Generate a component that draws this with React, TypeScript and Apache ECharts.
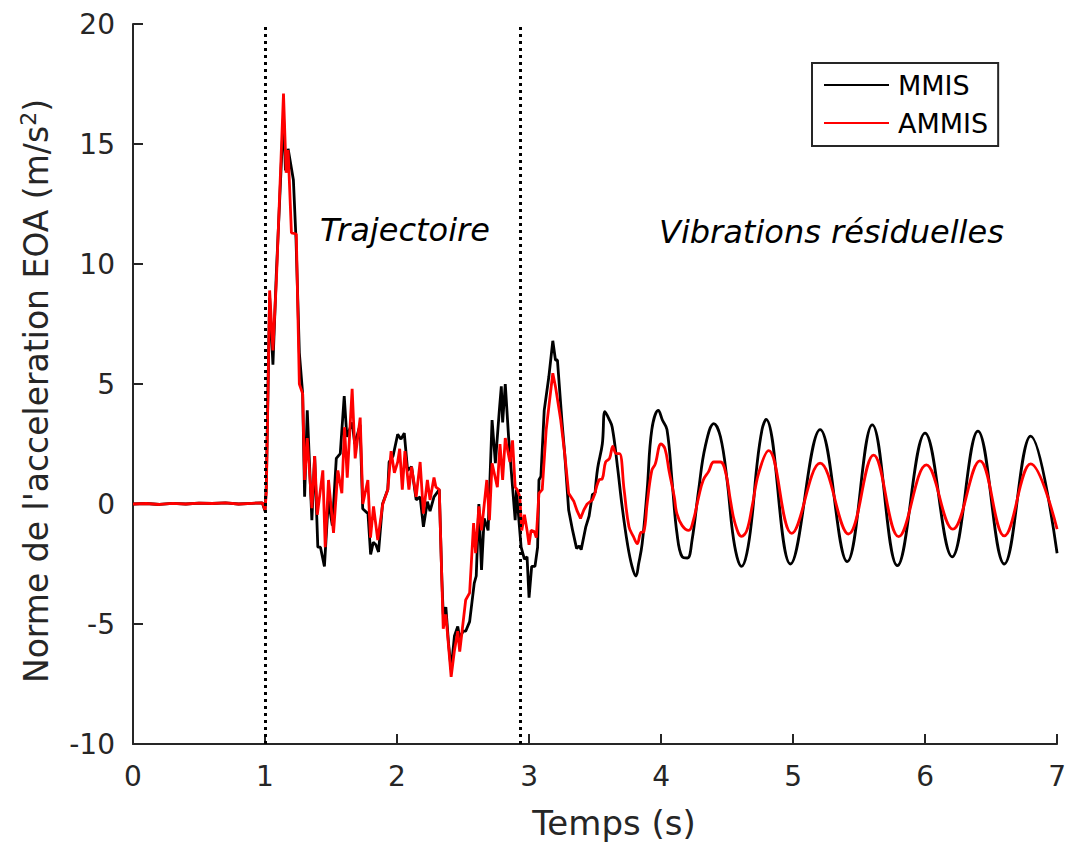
import React, { useEffect, useRef } from "react";
import * as echarts from "echarts";

// ---- Data (time in s, acceleration norm in m/s^2) ----
const xTicks = [0, 1, 2, 3, 4, 5, 6, 7];
const yTicks = [-10, -5, 0, 5, 10, 15, 20];
const phaseBounds = [1.0, 2.93];
const phaseLabels = ["Trajectoire", "Vibrations résiduelles"];
const seriesNames = ["MMIS", "AMMIS"];

// MMIS — trajectory / transient part (straight segments)
const mmisTransient: [number, number][] = [
  [0, 0.0], [0.1, 0.02], [0.2, -0.02], [0.3, 0.03], [0.4, 0.0], [0.5, 0.04], [0.6, 0.02],
  [0.7, 0.05], [0.8, 0.0], [0.9, 0.03], [0.98, 0.05], [1.0, -0.3], [1.01, 0.8],
  [1.035, 8.6], [1.06, 5.8], [1.085, 9.5], [1.14, 16.2], [1.155, 13.9], [1.175, 14.8],
  [1.215, 13.5], [1.235, 11.0], [1.26, 6.3], [1.285, 4.6], [1.3, 0.3], [1.32, 3.9],
  [1.355, -0.67], [1.376, 2.0], [1.4, -1.8], [1.42, -1.8], [1.45, -2.6], [1.48, 0.17],
  [1.51, -0.9], [1.54, 1.9], [1.57, 2.1], [1.6, 4.5], [1.62, 2.8], [1.66, 3.4], [1.68, 2.5],
  [1.72, 3.3], [1.74, -0.2], [1.78, -0.4], [1.8, -2.1], [1.82, -1.6], [1.84, -1.7],
  [1.86, -2.0], [1.89, 0.0], [1.93, 0.6], [1.94, 1.75], [1.97, 2.0], [2.005, 2.9],
  [2.03, 2.7], [2.055, 2.95], [2.08, 1.4], [2.11, 1.55], [2.145, 0.17], [2.175, 0.3],
  [2.2, -0.95], [2.23, 0.1], [2.25, -0.3], [2.28, 0.3], [2.32, 0.6], [2.34, -3.2],
  [2.35, -4.6], [2.37, -4.3], [2.39, -5.8], [2.41, -6.9], [2.435, -5.5], [2.46, -5.1],
  [2.475, -5.6], [2.5, -5.3], [2.52, -5.3], [2.55, -4.9], [2.585, -3.3], [2.6, -3.0],
  [2.62, 0.0], [2.64, -2.75], [2.66, -0.6], [2.69, -1.1], [2.72, 3.5], [2.745, 1.7],
  [2.775, 3.9], [2.79, 4.9], [2.8, 3.4], [2.82, 5.0], [2.845, 2.8], [2.86, 1.75],
  [2.895, -0.67], [2.905, 0.6], [2.925, -0.8], [2.94, -1.8], [2.965, -2.3], [2.985, -2.2],
  [3.0, -3.9], [3.02, -2.6], [3.045, -2.6], [3.065, -1.8], [3.075, 1.0], [3.09, 1.15],
  [3.115, 3.9], [3.15, 5.3], [3.18, 6.8], [3.2, 6.0], [3.215, 6.0], [3.25, 3.4],
  [3.27, 2.1], [3.3, -0.25], [3.33, -1.1], [3.36, -1.85], [3.38, -1.75], [3.395, -1.9],
  [3.43, -0.95], [3.455, -0.5], [3.48, 0.4], [3.5, 0.45],
];
// MMIS — residual vibrations (smoothed)
const mmisVibration: [number, number][] = [
  [3.5, 0.45], [3.52, 1.5], [3.555, 2.5], [3.575, 3.85], [3.605, 3.55], [3.63, 3.2],
  [3.67, 1.55], [3.705, -0.1], [3.745, -1.65], [3.78, -2.6], [3.81, -3.0], [3.83, -2.5],
  [3.857, -1.65], [3.895, 0.6], [3.93, 3.1], [3.98, 3.9], [4.01, 3.5], [4.045, 3.1],
  [4.085, 0.85], [4.12, -1.2], [4.16, -2.2], [4.2, -2.25], [4.235, -1.5], [4.285, 0.6],
  [4.335, 2.4], [4.4, 3.35], [4.45, 2.8], [4.5, 1.0], [4.54, -1.1], [4.575, -2.2],
  [4.61, -2.6], [4.65, -2.05], [4.69, -0.5], [4.725, 1.55], [4.765, 3.1], [4.795, 3.53],
  [4.98, -2.5], [5.205, 3.1], [5.41, -2.4], [5.6, 3.3], [5.79, -2.57], [6.0, 2.95],
  [6.205, -2.2], [6.4, 3.04], [6.6, -2.5], [6.8, 2.83], [7.0, -2.05],
];

// AMMIS — trajectory / transient part
const ammisTransient: [number, number][] = [
  [0, 0.0], [0.1, 0.02], [0.2, -0.02], [0.3, 0.03], [0.4, 0.0], [0.5, 0.04], [0.6, 0.02],
  [0.7, 0.05], [0.8, 0.0], [0.9, 0.03], [0.98, 0.05], [1.0, -0.25], [1.01, 0.5],
  [1.035, 8.9], [1.06, 6.4], [1.086, 9.3], [1.14, 17.1], [1.16, 13.8], [1.175, 14.75],
  [1.2, 11.3], [1.237, 11.25], [1.26, 5.0], [1.285, 4.6], [1.3, 1.0], [1.32, 2.75],
  [1.355, -0.17], [1.376, 2.0], [1.396, -0.45], [1.438, 1.4], [1.456, -1.8], [1.481, 1.0],
  [1.519, -1.2], [1.552, 1.4], [1.582, 0.45], [1.602, 3.2], [1.623, 1.1], [1.66, 4.8],
  [1.683, 1.9], [1.721, 3.6], [1.741, 0.0], [1.779, 1.0], [1.799, -1.4], [1.822, -0.1],
  [1.854, -1.5], [1.892, 0.0], [1.93, 0.6], [1.955, 2.2], [1.98, 1.3], [2.005, 1.75],
  [2.02, 2.3], [2.04, 0.6], [2.06, 2.2], [2.09, 0.6], [2.11, 1.55], [2.145, 0.3],
  [2.175, 1.75], [2.2, -0.4], [2.23, 1.0], [2.25, 0.17], [2.28, 1.1], [2.295, 0.7],
  [2.32, 0.6], [2.35, -5.2], [2.37, -4.6], [2.41, -7.2], [2.435, -6.1], [2.46, -5.3],
  [2.475, -6.15], [2.52, -4.0], [2.55, -3.7], [2.58, -0.8], [2.595, -2.05], [2.62, -0.1],
  [2.64, -1.1], [2.68, 1.0], [2.7, -0.67], [2.72, 1.7], [2.76, 0.7], [2.78, 2.5],
  [2.8, 1.0], [2.82, 2.75], [2.855, 1.75], [2.875, 2.65], [2.895, 0.7], [2.91, 0.6],
  [2.93, 0.3], [2.945, -1.1], [2.965, -0.45], [2.985, -1.1], [3.0, -1.7], [3.015, -1.1],
  [3.04, -1.15], [3.055, -1.4], [3.075, 0.45], [3.1, 0.6], [3.13, 3.1], [3.15, 4.05],
  [3.18, 5.45], [3.2, 4.9], [3.24, 3.5], [3.27, 2.1], [3.3, 0.45], [3.34, 0.1],
  [3.365, -0.3], [3.39, -0.6], [3.415, -0.25], [3.44, 0.0], [3.48, 0.17], [3.5, 0.45],
];
// AMMIS — residual vibrations (smoothed)
const ammisVibration: [number, number][] = [
  [3.5, 0.45], [3.53, 1.0], [3.555, 1.05], [3.58, 1.75], [3.61, 1.9], [3.635, 2.4],
  [3.66, 2.1], [3.685, 2.1], [3.72, 0.6], [3.757, -0.95], [3.79, -1.35], [3.82, -1.65],
  [3.845, -1.2], [3.87, -1.15], [3.895, 0.03], [3.93, 1.4], [3.955, 1.65], [4.0, 2.5],
  [4.03, 2.3], [4.06, 1.4], [4.1, 0.3], [4.12, -0.4], [4.16, -0.9], [4.21, -1.1],
  [4.245, -0.67], [4.285, 0.3], [4.32, 1.0], [4.36, 1.35], [4.4, 1.75], [4.45, 1.75],
  [4.49, 1.3], [4.525, 0.17], [4.56, -0.8], [4.61, -1.35], [4.65, -1.1], [4.69, -0.1],
  [4.74, 1.3], [4.815, 2.22], [4.99, -1.22], [5.205, 1.7], [5.42, -1.25], [5.61, 2.04],
  [5.8, -1.36], [6.01, 1.63], [6.21, -1.05], [6.415, 1.8], [6.6, -1.33], [6.8, 1.67],
  [7.0, -1.05],
];

const FONT = "DejaVu Sans";
const AXIS = "#262626";

export default function App() {
  const ref = useRef<HTMLDivElement>(null);
  useEffect(() => {
    if (!ref.current) return;
    const chart = echarts.init(ref.current, null, { renderer: "svg" });
    const lineBase = { type: "line", symbol: "none", showSymbol: false, z: 2 } as any;
    chart.setOption({
      animation: false,
      backgroundColor: "#ffffff",
      textStyle: { fontFamily: FONT, color: AXIS },
      grid: { left: 133, right: 10, top: 24, bottom: 101, containLabel: false },
      legend: {
        data: seriesNames,
        icon: "rect",
        orient: "vertical",
        left: 812,
        top: 63,
        padding: [7, 10, 8, 12],
        itemWidth: 65,
        itemHeight: 2,
        itemGap: 8,
        borderColor: AXIS,
        borderWidth: 2,
        backgroundColor: "#fff",
        textStyle: { fontFamily: FONT, fontSize: 27, color: "#000", lineHeight: 30, padding: [0, 0, 0, 4] },
      },
      xAxis: {
        type: "value",
        min: xTicks[0],
        max: xTicks[xTicks.length - 1],
        interval: 1,
        name: "Temps (s)",
        nameLocation: "middle",
        nameGap: 62,
        nameTextStyle: { fontFamily: FONT, fontSize: 34, color: AXIS, padding: [0, 0, 0, 38] },
        axisLine: { onZero: false, lineStyle: { color: AXIS, width: 2 } },
        axisTick: { inside: true, length: 10, lineStyle: { color: AXIS, width: 2 } },
        axisLabel: { fontFamily: FONT, fontSize: 28, color: AXIS, margin: 18 },
        splitLine: { show: false },
      },
      yAxis: {
        type: "value",
        min: yTicks[0],
        max: yTicks[yTicks.length - 1],
        interval: 5,
        name: "Norme de l'acceleration EOA (m/s{sup|2})",
        nameLocation: "middle",
        nameGap: 78,
        nameTextStyle: {
          fontFamily: FONT,
          fontSize: 33,
          color: AXIS,
          padding: [0, 14, 0, 0],
          rich: {
            sup: { fontFamily: FONT, fontSize: 22, color: AXIS, padding: [0, 0, 16, 0] },
          },
        },
        axisLine: { show: true, onZero: false, lineStyle: { color: AXIS, width: 2 } },
        axisTick: { show: true, inside: true, length: 10, lineStyle: { color: AXIS, width: 2 } },
        axisLabel: { fontFamily: FONT, fontSize: 28, color: AXIS, margin: 18 },
        splitLine: { show: false },
      },
      graphic: [
        {
          type: "text",
          left: 320,
          top: 214,
          style: {
            text: phaseLabels[0],
            font: `italic 32px "${FONT}"`,
            fill: "#000",
          },
        },
        {
          type: "text",
          left: 659,
          top: 216,
          style: {
            text: phaseLabels[1],
            font: `italic 32px "${FONT}"`,
            fill: "#000",
          },
        },
      ],
      series: [
        {
          ...lineBase,
          name: seriesNames[0],
          data: mmisTransient,
          lineStyle: { color: "#000", width: 2.8 },
          itemStyle: { color: "#000" },
          markLine: {
            silent: true,
            symbol: "none",
            label: { show: false },
            lineStyle: { color: "#000", type: [3, 4], width: 3 },
            data: phaseBounds.map((b) => ({ xAxis: b })),
          },
        },
        {
          ...lineBase,
          name: seriesNames[0],
          data: mmisVibration,
          smooth: 0.4,
          lineStyle: { color: "#000", width: 2.8 },
          itemStyle: { color: "#000" },
        },
        {
          ...lineBase,
          name: seriesNames[1],
          data: ammisTransient,
          z: 3,
          lineStyle: { color: "#ff0000", width: 2.8 },
          itemStyle: { color: "#ff0000" },
        },
        {
          ...lineBase,
          name: seriesNames[1],
          data: ammisVibration,
          z: 3,
          smooth: 0.4,
          lineStyle: { color: "#ff0000", width: 2.8 },
          itemStyle: { color: "#ff0000" },
        },
      ],
    });
    return () => chart.dispose();
  }, []);
  return <div ref={ref} style={{ width: 1069, height: 845, position: "absolute", left: 0, top: 0 }} />;
}
